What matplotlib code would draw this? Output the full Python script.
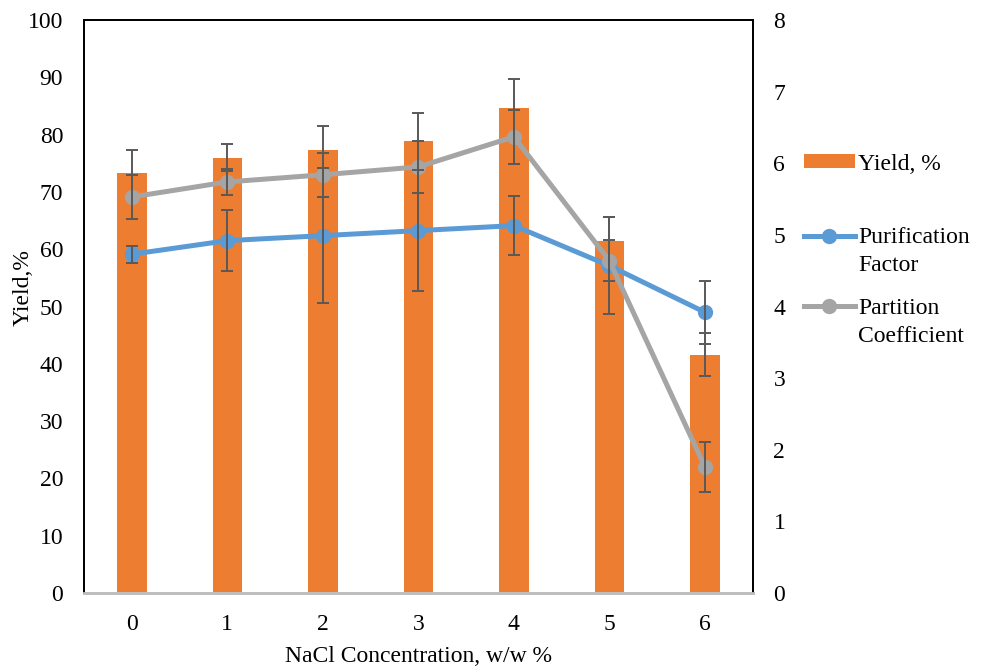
import numpy as np
import matplotlib.pyplot as plt

plt.rcParams['font.family'] = ['Liberation Serif', 'DejaVu Serif']

# NaCl concentration (w/w %)
nacl = [0, 1, 2, 3, 4, 5, 6]

# yield (%) with error
yield_pct = [73.3, 76.0, 77.4, 78.9, 84.6, 61.5, 41.6]
yield_err = [4.1, 2.4, 4.2, 4.9, 5.1, 4.1, 3.7]

# purification factor
pf = [4.73, 4.92, 4.99, 5.06, 5.13, 4.57, 3.92]
pf_err = [0.12, 0.43, 0.94, 0.84, 0.41, 0.68, 0.44]

# partition coefficient
pc = [5.53, 5.74, 5.84, 5.95, 6.37, 4.64, 1.76]
pc_err = [0.31, 0.18, 0.31, 0.36, 0.38, 0.29, 0.35]

orange = '#ED7D31'
blue = '#5B9BD5'
grey = '#A5A5A5'
ecol = '#595959'
fs = 17

fig = plt.figure(figsize=(9.89, 6.70), dpi=100)
ax = fig.add_axes([0.085, 0.115, 0.676, 0.855])
ax2 = ax.twinx()

x = np.array(nacl)
b = ax.bar(x, yield_pct, width=0.31, color=orange, zorder=2)
ax.errorbar(x, yield_pct, yerr=yield_err, fmt='none', ecolor=ecol,
            elinewidth=1.4, capsize=4, capthick=1.4, zorder=3)

l1, = ax2.plot(x, pf, '-o', color=blue, lw=3.6, ms=10, zorder=3)
ax2.errorbar(x, pf, yerr=pf_err, fmt='none', ecolor=ecol,
             elinewidth=1.4, capsize=4, capthick=1.4, zorder=4)
l2, = ax2.plot(x, pc, '-o', color=grey, lw=3.6, ms=10, zorder=3)
ax2.errorbar(x, pc, yerr=pc_err, fmt='none', ecolor=ecol,
             elinewidth=1.4, capsize=4, capthick=1.4, zorder=4)

ax.set_xlim(-0.5, 6.5)
ax.set_ylim(0, 100)
ax2.set_ylim(0, 8)
ax.set_yticks(np.arange(0, 101, 10))
ax2.set_yticks(np.arange(0, 9, 1))
ax.set_xticks(x)

for a in (ax, ax2):
    a.tick_params(length=0, labelsize=fs)
    for s in a.spines.values():
        s.set_color('black')
        s.set_linewidth(1.3)
    a.spines['bottom'].set_color('#BFBFBF')
    a.spines['bottom'].set_linewidth(2)
ax.tick_params(axis='x', pad=15)
ax.tick_params(axis='y', pad=15)
ax2.tick_params(axis='y', pad=15)

ax.set_xlabel('NaCl Concentration, w/w %', fontsize=fs, labelpad=8)
ax.set_ylabel('Yield,%', fontsize=fs)
ax.yaxis.set_label_coords(-0.076, 0.533)

# one legend per entry, marker lined up with the first line of the label
entries = [(b, 'Yield, %', None, 0.755),
           (l1, 'Purification', 'Factor', 0.645),
           (l2, 'Partition', 'Coefficient', 0.540)]
legs = []
for h, lab, lab2, yy in entries:
    leg = fig.legend([h], [lab], loc='center left', bbox_to_anchor=(0.813, yy),
                     frameon=False, fontsize=fs, handlelength=2.15, handleheight=0.55,
                     handletextpad=0.15, borderpad=0, borderaxespad=0)
    legs.append((leg, lab2))

fig.canvas.draw()
inv = fig.transFigure.inverted()
for leg, lab2 in legs:
    if lab2 is None:
        continue
    bb = leg.get_texts()[0].get_window_extent()
    x0, y0 = inv.transform((bb.x0, bb.y0 - 28))
    fig.text(x0, y0, lab2, fontsize=fs, ha='left', va='bottom')

fig.savefig('out.png', dpi=100)
